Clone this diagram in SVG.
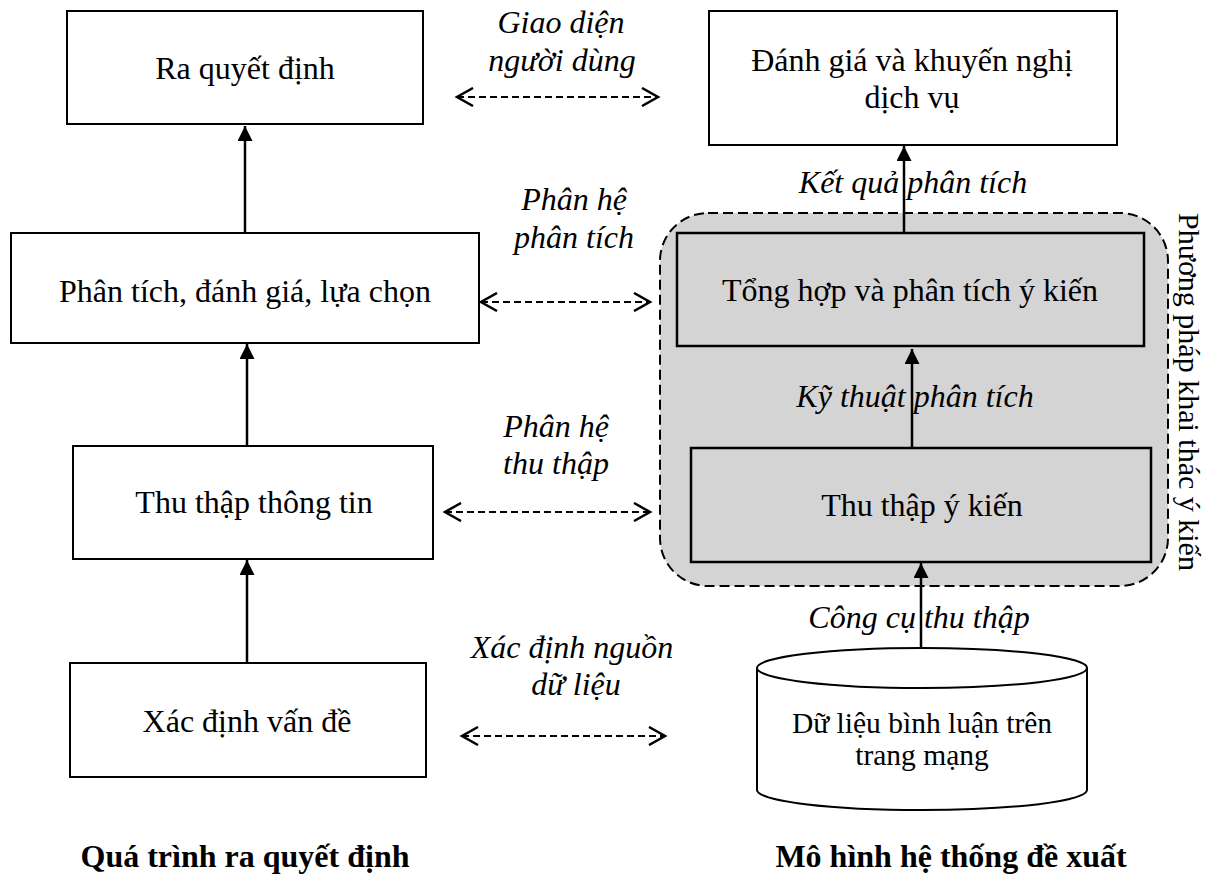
<svg xmlns="http://www.w3.org/2000/svg" width="1216" height="877" viewBox="0 0 1216 877">
<style>
.box{fill:#fff;stroke:#000;stroke-width:2}
.gbox{fill:#d4d4d4;stroke:#000;stroke-width:2.5}
.t{font-family:"Liberation Serif","Times New Roman",serif;font-size:32px;fill:#000;text-anchor:middle}
.s{font-size:29.5px}
.i{font-style:italic}
.b{font-weight:bold}
.conn{stroke:#000;stroke-width:2.5;fill:none;marker-end:url(#ah)}
.dconn{stroke:#000;stroke-width:2;fill:none;stroke-dasharray:7 4;marker-start:url(#oh);marker-end:url(#oh)}
</style>
<defs>
<marker id="ah" viewBox="0 0 15 15" refX="15" refY="7.5" markerWidth="15" markerHeight="15" markerUnits="userSpaceOnUse" orient="auto">
<path d="M0,0 L15,7.5 L0,15 z" fill="#000"/>
</marker>
<marker id="oh" viewBox="0 0 20 20" refX="17" refY="10" markerWidth="20" markerHeight="20" markerUnits="userSpaceOnUse" orient="auto-start-reverse">
<path d="M1,1 L17,10 L1,19" fill="none" stroke="#000" stroke-width="2.5"/>
</marker>
</defs>
<rect width="1216" height="877" fill="#fff"/>

<g id="method-group">
<rect x="660" y="213" width="508" height="373" rx="48" fill="#d4d4d4" stroke="#000" stroke-width="2" stroke-dasharray="10 5"/>
<text class="t" x="1179" y="392" style="font-size:30px" transform="rotate(90 1179 392)">Phương pháp khai thác ý kiến</text>
</g>

<g id="n-ra-quyet-dinh">
<rect class="box" x="67" y="11" width="356" height="113"/>
<text class="t" x="245" y="79">Ra quyết định</text>
</g>
<g id="n-phan-tich">
<rect class="box" x="11" y="233" width="468" height="110"/>
<text class="t" x="245" y="302">Phân tích, đánh giá, lựa chọn</text>
</g>
<g id="n-thu-thap-thong-tin">
<rect class="box" x="73" y="446" width="360" height="113"/>
<text class="t" x="254" y="513">Thu thập thông tin</text>
</g>
<g id="n-xac-dinh">
<rect class="box" x="70" y="663" width="356" height="114"/>
<text class="t" x="247" y="732">Xác định vấn đề</text>
</g>

<g id="n-danh-gia">
<rect class="box" x="709" y="11" width="408" height="134"/>
<text class="t" x="912" y="71">Đánh giá và khuyến nghị</text>
<text class="t" x="912" y="108">dịch vụ</text>
</g>
<g id="n-tong-hop">
<rect class="gbox" x="677" y="233" width="467" height="113"/>
<text class="t" x="910" y="301">Tổng hợp và phân tích ý kiến</text>
</g>
<g id="n-thu-thap-y-kien">
<rect class="gbox" x="691" y="448" width="460" height="114"/>
<text class="t" x="922" y="516">Thu thập ý kiến</text>
</g>
<g id="n-du-lieu">
<path class="box" d="M757,668 L757,790 A165,20 0 0 0 1087,790 L1087,668"/>
<ellipse class="box" cx="922" cy="668" rx="165" ry="20"/>
<text class="t s" x="922" y="733">Dữ liệu bình luận trên</text>
<text class="t s" x="922" y="765">trang mạng</text>
</g>

<g id="connectors">
<line class="conn" x1="245" y1="233" x2="245" y2="126"/>
<line class="conn" x1="247" y1="446" x2="247" y2="344"/>
<line class="conn" x1="247" y1="663" x2="247" y2="560"/>
<line class="conn" x1="904" y1="233" x2="904" y2="146"/>
<line class="conn" x1="912" y1="448" x2="912" y2="349"/>
<line class="conn" x1="921" y1="648" x2="921" y2="563"/>
<line class="dconn" x1="457" y1="97" x2="658" y2="97"/>
<line class="dconn" x1="481" y1="302" x2="650" y2="302"/>
<line class="dconn" x1="445" y1="512" x2="650" y2="512"/>
<line class="dconn" x1="462" y1="736" x2="665" y2="736"/>
</g>

<g id="labels">
<text class="t i" x="561" y="33">Giao diện</text>
<text class="t i" x="562" y="71">người dùng</text>
<text class="t i" x="574" y="210">Phân hệ</text>
<text class="t i" x="574" y="248">phân tích</text>
<text class="t i" x="556" y="437">Phân hệ</text>
<text class="t i" x="556" y="474">thu thập</text>
<text class="t i" x="572" y="658">Xác định nguồn</text>
<text class="t i" x="576" y="695">dữ liệu</text>
<text class="t i" x="913" y="193">Kết quả phân tích</text>
<text class="t i" x="915" y="407">Kỹ thuật phân tích</text>
<text class="t i" x="919" y="628">Công cụ thu thập</text>
</g>

<g id="titles">
<text class="t b" x="245" y="867">Quá trình ra quyết định</text>
<text class="t b" x="951" y="867">Mô hình hệ thống đề xuất</text>
</g>
</svg>
